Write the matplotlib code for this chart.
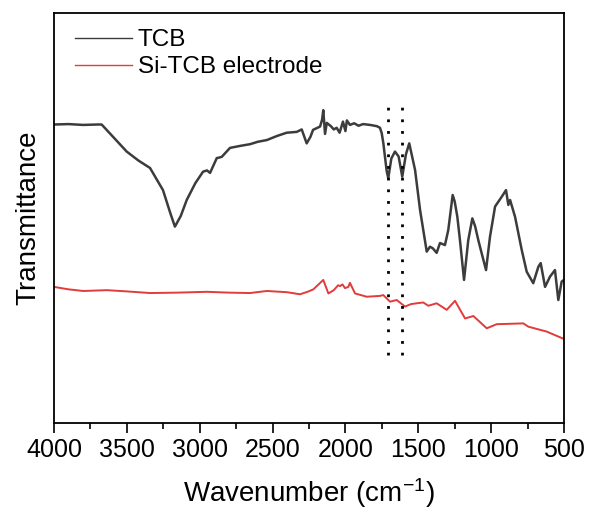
import numpy as np
import matplotlib
matplotlib.use("Agg")
import matplotlib.pyplot as plt

plt.rcParams['font.family'] = ['Liberation Sans', 'DejaVu Sans']
plt.rcParams['mathtext.fontset'] = 'custom'
plt.rcParams['mathtext.rm'] = 'Liberation Sans'
plt.rcParams['mathtext.it'] = 'Liberation Sans:italic'

# ---- data (wavenumber, transmittance a.u.)
tcb_wn = [4000, 3900, 3800, 3700, 3673, 3600, 3501, 3420, 3341, 3252, 3200, 3170,
          3130, 3089, 3030, 2977, 2950, 2929, 2883, 2849, 2792, 2720, 2655, 2600,
          2540, 2470, 2403, 2334, 2300, 2266, 2240, 2222, 2174, 2160, 2152, 2140,
          2128, 2100, 2080, 2060, 2040, 2017, 2000, 1990, 1969, 1940, 1910, 1879,
          1831, 1785, 1763, 1751, 1740, 1717, 1706, 1685, 1660, 1635, 1610, 1585,
          1562, 1522, 1488, 1442, 1420, 1400, 1374, 1351, 1317, 1294, 1264, 1250,
          1232, 1214, 1186, 1157, 1129, 1110, 1088, 1065, 1035, 1008, 973, 927,
          898, 882, 870, 836, 790, 756, 711, 676, 660, 630, 596, 562, 539, 516, 500]
tcb_t = [72.8, 72.9, 72.7, 72.8, 72.8, 70.0, 66.2, 64.0, 62.2, 56.8, 51.0, 47.9,
         50.5, 54.4, 58.5, 61.3, 61.6, 61.0, 64.6, 64.9, 67.1, 67.6, 68.0, 68.6,
         69.0, 70.0, 70.8, 71.0, 71.6, 68.2, 69.8, 71.5, 72.3, 74.0, 76.3, 70.5,
         73.2, 72.4, 71.6, 72.0, 70.8, 73.5, 71.2, 73.8, 72.7, 73.1, 72.5, 72.9,
         72.7, 72.4, 72.0, 70.7, 68.3, 61.5, 59.7, 64.5, 66.2, 65.0, 60.1, 65.5,
         68.2, 61.7, 52.0, 41.8, 43.0, 42.6, 41.5, 43.9, 43.4, 47.1, 55.6, 54.0,
         50.3, 44.6, 34.9, 44.6, 49.9, 48.0, 44.6, 41.4, 37.3, 45.4, 52.8, 55.2,
         56.8, 53.2, 54.4, 50.3, 42.2, 36.9, 34.1, 38.1, 39.0, 33.2, 35.7, 37.3,
         30.0, 34.5, 34.9]

si_wn = [4000, 3900, 3799, 3638, 3500, 3341, 3150, 2952, 2800, 2655, 2540, 2400,
         2312, 2260, 2220, 2152, 2117, 2080, 2050, 2037, 2020, 2003, 1980, 1969,
         1934, 1854, 1763, 1740, 1694, 1648, 1591, 1550, 1511, 1466, 1431, 1374,
         1305, 1248, 1179, 1122, 1030, 962, 870, 779, 745, 619, 500]
si_t = [33.2, 32.6, 32.2, 32.4, 32.1, 31.7, 31.8, 32.0, 31.8, 31.7, 32.2, 31.9,
        31.4, 32.0, 32.6, 34.9, 31.6, 32.4, 33.6, 33.4, 33.8, 32.9, 33.2, 34.2,
        31.6, 30.8, 31.0, 31.2, 29.6, 30.0, 28.4, 29.0, 29.2, 29.4, 28.6, 29.2,
        27.6, 29.8, 25.5, 26.1, 23.1, 24.1, 24.2, 24.3, 23.5, 22.3, 20.5]

marker_wn = [1706, 1610]

fig = plt.figure(figsize=(5.92, 5.15), dpi=100)
ax = fig.add_axes([0.0912, 0.1786, 0.8615, 0.7962])

ax.plot(tcb_wn, tcb_t, color='#3c3c3c', lw=1.8, label='TCB')
ax.plot(si_wn, si_t, color='#e23b3b', lw=1.4, label='Si-TCB electrode')

for w in marker_wn:
    ax.plot([w, w], [16.6, 78.8], color='black', lw=2, linestyle=(0, (1, 3.2)))

ax.set_xlim(4000, 500)
ax.set_ylim(0, 100)
ax.set_xticks(np.arange(4000, 499, -500))
ax.set_xticks(np.arange(3750, 500, -500), minor=True)
ax.tick_params(axis='x', which='major', direction='out', length=7.5, width=1.2, labelsize=18)
ax.tick_params(axis='x', which='minor', direction='out', length=4.5, width=1.2)
ax.set_yticks([])
for s in ax.spines.values():
    s.set_linewidth(1.3)

ax.set_xlabel('Wavenumber (cm$^{-1}$)', fontsize=20, labelpad=10)
ax.set_ylabel('Transmittance', fontsize=20, labelpad=9)

leg = ax.legend(loc='upper left', frameon=False, fontsize=17.5, handlelength=2.33,
                handletextpad=0.26, labelspacing=0.2, borderaxespad=0, borderpad=0,
                bbox_to_anchor=(0.041, 0.96))
for h in leg.get_lines():
    h.set_linewidth(1.0)

fig.savefig('out.png', dpi=100)
